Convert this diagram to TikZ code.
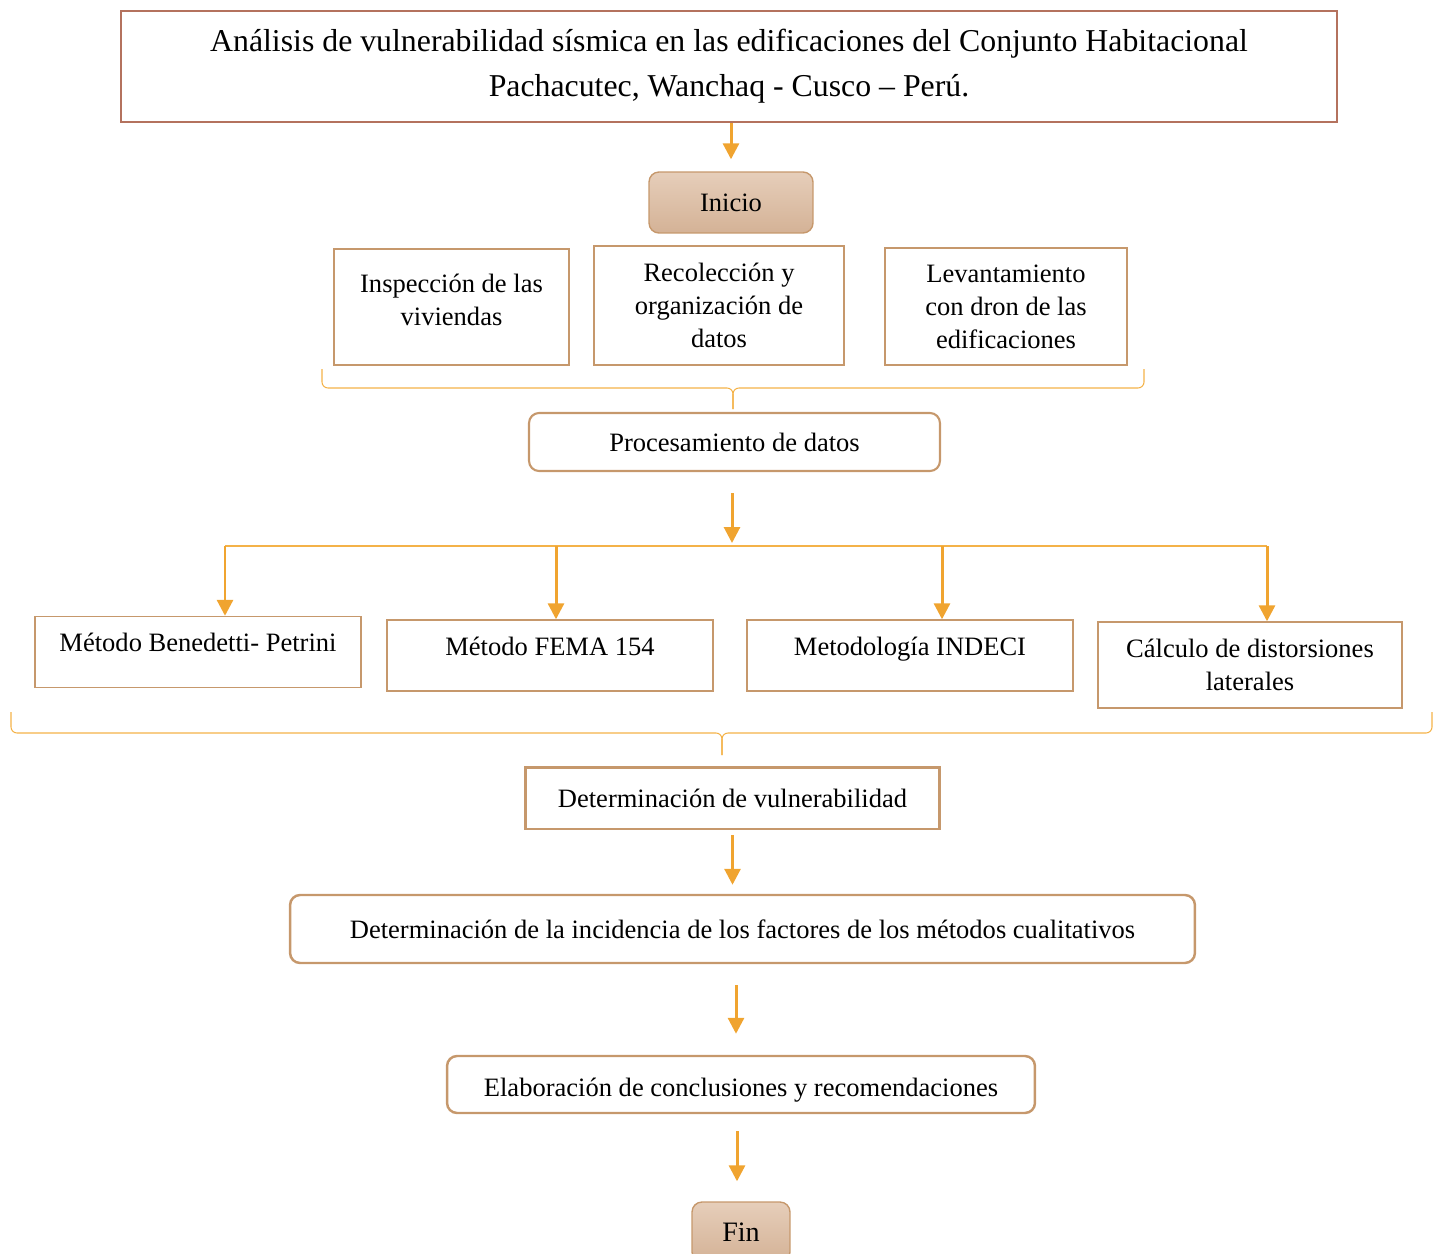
\documentclass[tikz,border=0pt]{standalone}
\usepackage{fontspec}
\setmainfont{Liberation Serif}
\usetikzlibrary{arrows.meta}
\definecolor{tituloborde}{RGB}{180,114,94}
\definecolor{cajaborde}{RGB}{198,152,108}
\definecolor{flecha}{RGB}{240,164,48}
\definecolor{llave}{RGB}{244,178,72}
\definecolor{inicioarriba}{RGB}{230,206,186}
\definecolor{inicioabajo}{RGB}{212,178,150}
\begin{document}
\begin{tikzpicture}[x=0.02cm, y=0.02cm,
  every node/.style={font=\fontsize{15.1pt}{18.7pt}\selectfont, align=center},
  caja/.style={draw=cajaborde, line width=1.4pt},
  metodo/.style={draw=cajaborde, line width=0.8pt},
  arriba/.style={text height=0.7cm, text depth=0.72cm},
  redonda/.style={draw=cajaborde, line width=1.4pt, rounded corners=0.2cm},
  terminal/.style={draw=cajaborde, line width=0.8pt, rounded corners=0.2cm, top color=inicioarriba, bottom color=inicioabajo},
  flechas/.style={draw=flecha, line width=1.7pt, -{Triangle[length=0.32cm, width=0.32cm]}},
  linea/.style={draw=llave, line width=0.6pt},
  llaves/.style={linea, rounded corners=0.12cm}]
\tikzstyle{every node}+=[inner sep=0pt]
\useasboundingbox (0,0) rectangle (1440,-1254);
\clip (0,0) rectangle (1440,-1254);
\node [draw=tituloborde, line width=1.4pt, minimum width=24.32cm, minimum height=2.22cm, font=\fontsize{18.1pt}{25.5pt}\selectfont] (titulo) at (729,-66.5) {Análisis de vulnerabilidad sísmica en las edificaciones del Conjunto Habitacional\\Pachacutec, Wanchaq - Cusco – Perú.};
\node [terminal, minimum width=3.28cm, minimum height=1.22cm] (inicio) at (731,-202.5) {Inicio};
\draw [flechas, shorten >=0.24cm] (inicio.north |- titulo.south) -- (inicio.north);
\node [caja, minimum width=4.7cm, minimum height=2.32cm, text depth=0.28cm] (inspeccion) at (451.5,-307) {Inspección de las\\viviendas};
\node [caja, minimum width=5cm, minimum height=2.38cm] (recoleccion) at (719,-305.5) {Recolección y\\organización de\\datos};
\node [caja, minimum width=4.84cm, minimum height=2.34cm] (levantamiento) at (1006,-306.5) {Levantamiento\\con dron de las\\edificaciones};
\coordinate (g1a) at (322,-369);
\coordinate (g1b) at (1144,-369);
\coordinate (g1c) at (733,-388);
\coordinate (g1d) at (733,-409);
\draw [llaves] (g1a) |- (g1c) -- (g1d);
\draw [llaves] (g1b) |- (g1c) -- (g1d);
\node [redonda, line width=1.2pt, minimum width=8.22cm, minimum height=1.16cm] (procesamiento) at (734.5,-442) {Procesamiento de datos};
\coordinate (reparto) at (732,-546);
\coordinate (m1) at (225,-546);
\coordinate (m2) at (556,-546);
\coordinate (m3) at (942,-546);
\coordinate (m4) at (1267,-546);
\draw [flechas, shorten <=0.42cm, shorten >=0.06cm] (reparto |- procesamiento.south) -- (reparto);
\draw [linea] (m1) -- (m4);
\node [metodo, arriba, minimum width=6.52cm] (benedetti) at (198,-652) {Método Benedetti- Petrini};
\node [metodo, arriba, minimum width=6.52cm] (fema) at (550,-655.5) {Método FEMA 154};
\node [metodo, arriba, minimum width=6.52cm] (indeci) at (910,-655.5) {Metodología INDECI};
\node [metodo, minimum width=6.08cm, minimum height=1.72cm] (distorsiones) at (1250,-665) {Cálculo de distorsiones\\laterales};
\draw [flechas] (m1) -- (m1 |- benedetti.north);
\draw [flechas] (m2) -- (m2 |- fema.north);
\draw [flechas] (m3) -- (m3 |- indeci.north);
\draw [flechas] (m4) -- (m4 |- distorsiones.north);
\coordinate (g2a) at (11,-712);
\coordinate (g2b) at (1432,-712);
\coordinate (g2c) at (722,-733);
\coordinate (g2d) at (722,-755);
\draw [llaves] (g2a) |- (g2c) -- (g2d);
\draw [llaves] (g2b) |- (g2c) -- (g2d);
\node [caja, line width=1.7pt, minimum width=8.3cm, minimum height=1.24cm] (vulnerabilidad) at (732.5,-798) {Determinación de vulnerabilidad};
\node [redonda, minimum width=18.1cm, minimum height=1.36cm] (incidencia) at (742.5,-929) {Determinación de la incidencia de los factores de los métodos cualitativos};
\draw [flechas, shorten <=0.1cm, shorten >=0.18cm] (vulnerabilidad.south) -- (vulnerabilidad.south |- incidencia.north);
\node [redonda, minimum width=11.76cm, minimum height=1.14cm, text height=0.6cm, text depth=0.12cm] (conclusiones) at (741,-1084.5) {Elaboración de conclusiones y recomendaciones};
\coordinate (eje) at (736,-1000);
\draw [flechas, shorten <=0.42cm, shorten >=0.42cm] (eje |- incidencia.south) -- (eje |- conclusiones.north);
\node [terminal, minimum width=1.96cm, minimum height=1.2cm, font=\fontsize{16pt}{19pt}\selectfont] (fin) at (741,-1232) {Fin};
\draw [flechas, shorten <=0.34cm, shorten >=0.4cm] ([xshift=-0.08cm]fin.north |- conclusiones.south) -- ([xshift=-0.08cm]fin.north);
\end{tikzpicture}
\end{document}
